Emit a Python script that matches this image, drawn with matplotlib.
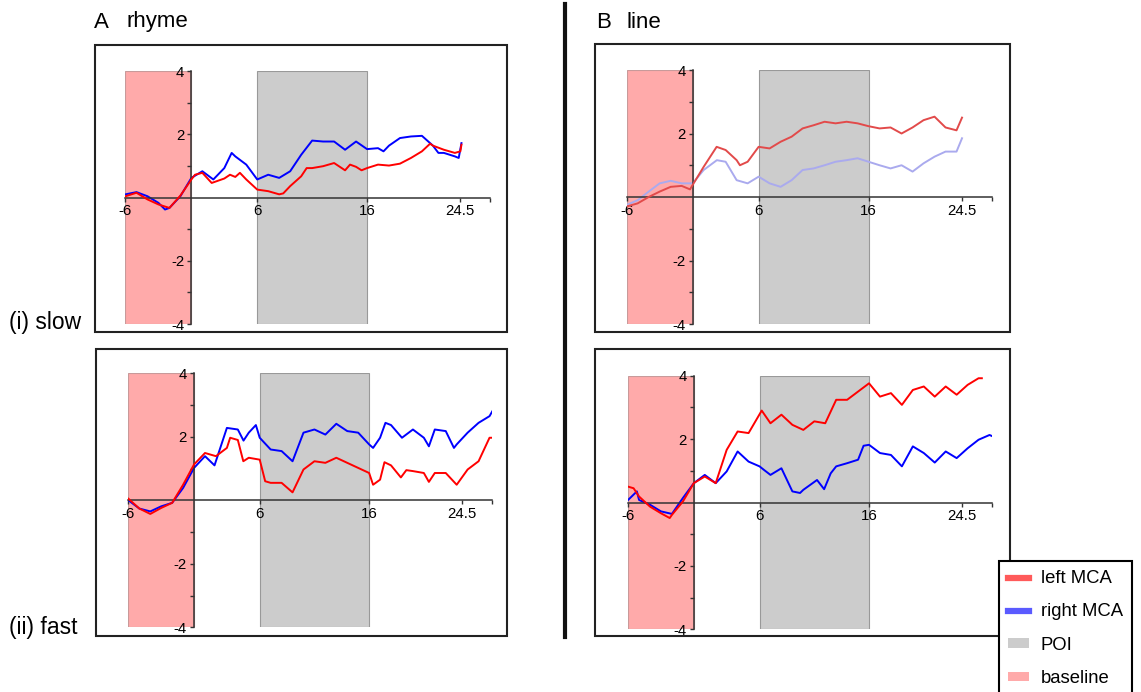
import matplotlib.pyplot as plt
from matplotlib.patches import Rectangle, Patch
from matplotlib.lines import Line2D

plt.rcParams['font.family'] = ['Liberation Sans', 'DejaVu Sans']

W, H = 1141, 692

# time relative to onset (s) and left / right MCA traces per condition
t_left_rhyme_slow = [-6, -5, -4, -3, -2, -1, 0, 0.33, 1, 1.85, 3, 3.52, 4, 4.42,
                     5, 6, 7, 8, 8.37, 9, 10, 10.5, 11, 12, 13, 14, 14.45, 15,
                     15.5, 16, 17, 18, 19, 20, 21, 21.74, 22, 23, 24, 24.5, 24.6]
left_rhyme_slow = [0.04, 0.15, -0.06, -0.22, -0.33, 0.06, 0.57, 0.72, 0.78, 0.46,
                   0.6, 0.72, 0.65, 0.78, 0.57, 0.25, 0.2, 0.1, 0.13, 0.36,
                   0.67, 0.93, 0.93, 0.99, 1.09, 0.86, 1.04, 0.97, 0.86, 0.93,
                   1.04, 1.01, 1.07, 1.25, 1.46, 1.7, 1.64, 1.51, 1.41, 1.46,
                   1.67]
t_right_rhyme_slow = [-6, -5, -4, -3, -2.4, -2, -1, 0, 1, 2, 3, 3.67, 4, 5, 6, 7,
                      8, 9, 10, 11, 12, 13, 14, 15, 16, 17, 17.5, 18, 19, 20,
                      21, 22, 22.5, 23, 24, 24.35, 24.6]
right_rhyme_slow = [0.1, 0.17, 0.04, -0.17, -0.38, -0.33, 0.04, 0.62, 0.83, 0.57,
                    0.93, 1.41, 1.3, 1.04, 0.57, 0.72, 0.62, 0.83, 1.35, 1.8,
                    1.77, 1.77, 1.51, 1.77, 1.53, 1.56, 1.46, 1.64, 1.88, 1.93,
                    1.95, 1.64, 1.41, 1.41, 1.3, 1.25, 1.72]

t_left_line_slow = [-6, -5, -4, -3, -2, -1, -0.24, 0, 1, 2.18, 3, 4, 4.3, 5, 6,
                    7, 8, 9, 10, 11, 12, 13, 14, 15, 16, 17, 18, 19, 20, 21, 22,
                    23, 24, 24.5]
left_line_slow = [-0.3, -0.2, 0.0, 0.17, 0.32, 0.35, 0.24, 0.38, 0.95, 1.58,
                  1.48, 1.16, 1.0, 1.11, 1.58, 1.53, 1.74, 1.9, 2.16, 2.26,
                  2.37, 2.32, 2.37, 2.32, 2.23, 2.16, 2.19, 2.0, 2.19, 2.42,
                  2.53, 2.19, 2.1, 2.5]
t_right_line_slow = [-6, -5, -4, -3, -2, -1, 0, 1, 2.2, 3, 4, 5, 6, 7, 8, 9, 10,
                     11, 12, 13, 14, 15, 16, 17, 18, 19, 20, 21, 22, 23, 24,
                     24.5]
right_line_slow = [-0.25, -0.1, 0.17, 0.43, 0.51, 0.43, 0.43, 0.85, 1.16, 1.11,
                   0.53, 0.43, 0.64, 0.43, 0.32, 0.53, 0.85, 0.9, 1.0, 1.11,
                   1.16, 1.22, 1.11, 1.0, 0.9, 1.0, 0.8, 1.06, 1.27, 1.43,
                   1.43, 1.85]

t_left_rhyme_fast = [-6, -5, -4, -3, -2, -1, 0, 1, 2, 3, 3.3, 4, 4.5, 5, 6, 6.5,
                     7, 8, 9, 10, 11, 12, 13, 14, 15, 16, 16.36, 17, 17.4, 18,
                     18.9, 19.4, 20, 21, 21.46, 22, 23, 24, 25, 26, 27, 27.3]
left_rhyme_fast = [0.05, -0.26, -0.43, -0.24, -0.08, 0.49, 1.13, 1.49, 1.39, 1.65,
                   1.97, 1.9, 1.23, 1.34, 1.28, 0.6, 0.55, 0.55, 0.25, 0.97,
                   1.23, 1.18, 1.34, 1.18, 1.02, 0.86, 0.49, 0.65, 1.2, 1.1,
                   0.72, 0.95, 0.92, 0.86, 0.58, 0.86, 0.86, 0.49, 0.97, 1.23,
                   1.97, 1.97]
t_right_rhyme_fast = [-6, -5, -4, -3, -2, -1, 0, 1, 1.87, 3, 4, 4.52, 5, 5.65, 6,
                      7, 8, 9, 10, 11, 12, 13, 14, 15, 16, 16.36, 17, 17.49, 18,
                      19, 20, 21, 21.46, 22, 23, 23.75, 24, 25, 26, 27, 27.3]
right_rhyme_fast = [0.0, -0.26, -0.35, -0.19, -0.08, 0.39, 1.02, 1.39, 1.1, 2.28,
                    2.23, 1.88, 2.13, 2.37, 1.97, 1.6, 1.55, 1.23, 2.13, 2.23,
                    2.07, 2.41, 2.18, 2.13, 1.76, 1.65, 1.97, 2.44, 2.37, 1.97,
                    2.23, 1.97, 1.7, 2.23, 2.18, 1.65, 1.76, 2.13, 2.44, 2.65,
                    2.83]

t_left_line_fast = [-6, -5.5, -5, -4, -3, -2.2, -2, -1, 0, 1, 2, 3, 4, 5, 6.2, 7,
                    8, 9, 10, 11, 12, 13, 14, 15, 16, 17, 18, 19, 20, 21, 22, 23,
                    24, 25, 26, 26.3]
left_line_fast = [0.5, 0.45, 0.19, -0.13, -0.34, -0.49, -0.39, 0.03, 0.61, 0.82,
                  0.61, 1.66, 2.24, 2.19, 2.9, 2.5, 2.77, 2.45, 2.29, 2.56,
                  2.5, 3.24, 3.24, 3.5, 3.76, 3.34, 3.45, 3.08, 3.55, 3.66,
                  3.34, 3.66, 3.4, 3.71, 3.92, 3.92]
t_right_line_fast = [-6, -5.2, -5, -4, -3, -2, -1, 0, 1, 2, 3, 4, 5, 6, 6.4, 7, 8,
                     9, 9.7, 10, 11.25, 11.9, 12.5, 13, 14, 15, 15.5, 16, 17,
                     18, 19, 20, 21, 22, 23, 24, 25, 26, 27, 27.2]
right_line_fast = [0.08, 0.35, 0.08, -0.07, -0.28, -0.36, 0.14, 0.61, 0.87, 0.61,
                   0.98, 1.61, 1.29, 1.14, 1.03, 0.87, 1.08, 0.35, 0.3, 0.4,
                   0.71, 0.42, 0.92, 1.14, 1.24, 1.35, 1.79, 1.82, 1.56, 1.5,
                   1.14, 1.77, 1.56, 1.26, 1.61, 1.4, 1.71, 1.98, 2.13, 2.1]

baseline_win = (-6, 0)
poi_win = (6, 16)
xticks = [-6, 6, 16, 24.5]
xticklabels = ['-6', '6', '16', '24.5']
yticks = [-4, -2, 2, 4]
yticklabels = ['-4', '-2', '2', '4']


def frac(l, t, r, b):
    return [l / W, 1 - b / H, (r - l) / W, (b - t) / H]


def panel(ax_px, box_px, t_l, left, t_r, right, red, blue):
    box = Rectangle((box_px[0] / W, 1 - box_px[3] / H),
                    (box_px[2] - box_px[0]) / W, (box_px[3] - box_px[1]) / H,
                    transform=fig.transFigure, fill=False, lw=1.5, ec='#222222')
    fig.add_artist(box)
    ax = fig.add_axes(frac(*ax_px))
    ax.set_facecolor('none')
    ax.axvspan(*baseline_win, fc='#ffaaaa', ec='#c89a9a', lw=0.8, zorder=0)
    ax.axvspan(*poi_win, fc='#cccccc', ec='#999999', lw=0.8, zorder=0)
    ax.plot(t_r, right, color=blue, lw=1.4, zorder=2)
    ax.plot(t_l, left, color=red, lw=1.4, zorder=3)
    ax.set_xlim(-6, 27.2)
    ax.set_ylim(-4, 4)
    for s in ['top', 'right']:
        ax.spines[s].set_visible(False)
    for s in ['left', 'bottom']:
        ax.spines[s].set_position(('data', 0))
        ax.spines[s].set_color('#333333')
        ax.spines[s].set_linewidth(1.1)
    ax.set_xticks(xticks)
    ax.set_xticklabels(xticklabels)
    ax.set_xticks([27.2], minor=True)
    ax.set_yticks(yticks)
    ax.set_yticklabels(yticklabels)
    ax.set_yticks([-3, -1, 1, 3], minor=True)
    ax.tick_params(which='both', length=3, width=1, color='#333333',
                   labelsize=10.8, pad=2)
    return ax


fig = plt.figure(figsize=(W / 100, H / 100), dpi=100)

panel((125.5, 71, 490, 324), (95, 45, 507, 332),
      t_left_rhyme_slow, left_rhyme_slow, t_right_rhyme_slow, right_rhyme_slow,
      '#ff0000', '#0000ff')
panel((128.4, 373.3, 491.7, 627.3), (96, 349, 507, 636),
      t_left_rhyme_fast, left_rhyme_fast, t_right_rhyme_fast, right_rhyme_fast,
      '#ff0000', '#0000ff')
panel((626.7, 70, 991.7, 324), (595, 44, 1010, 332),
      t_left_line_slow, left_line_slow, t_right_line_slow, right_line_slow,
      '#e24a4a', '#aaaaee')
panel((628.1, 375.7, 991.7, 629.3), (595, 349, 1010, 636),
      t_left_line_fast, left_line_fast, t_right_line_fast, right_line_fast,
      '#ff0000', '#0000ff')

# headers and row labels
fig.text(94 / W, 1 - 27.5 / H, 'A', fontsize=16, va='baseline')
fig.text(127 / W, 1 - 27.5 / H, 'rhyme', fontsize=16, va='baseline')
fig.text(596 / W, 1 - 27.5 / H, 'B', fontsize=16, va='baseline')
fig.text(626 / W, 1 - 27.5 / H, 'line', fontsize=16, va='baseline')
fig.text(9 / W, 1 - 329 / H, '(i) slow', fontsize=16.5, va='baseline')
fig.text(9 / W, 1 - 634 / H, '(ii) fast', fontsize=16.5, va='baseline')

# separator between the two columns
fig.add_artist(Line2D([564.5 / W, 564.5 / W], [1 - 4 / H, 1 - 637 / H],
                      transform=fig.transFigure, lw=3, color='#111111'))

handles = [Line2D([], [], color='#ff5a5a', lw=4.5),
           Line2D([], [], color='#5a5aff', lw=4.5),
           Patch(fc='#cccccc', ec='none'),
           Patch(fc='#ffaaaa', ec='none')]
labels = ['left MCA', 'right MCA', 'POI', 'baseline']
leg = fig.legend(handles, labels, loc='upper left',
                 bbox_to_anchor=(999 / W, 1 - 561 / H), fontsize=13.3,
                 fancybox=False, edgecolor='black', framealpha=1,
                 handlelength=1.15, handleheight=0.4, labelspacing=0.88,
                 borderpad=0.5, handletextpad=0.6, borderaxespad=0)
leg.get_frame().set_linewidth(1.5)

fig.savefig('out.png', dpi=100)
